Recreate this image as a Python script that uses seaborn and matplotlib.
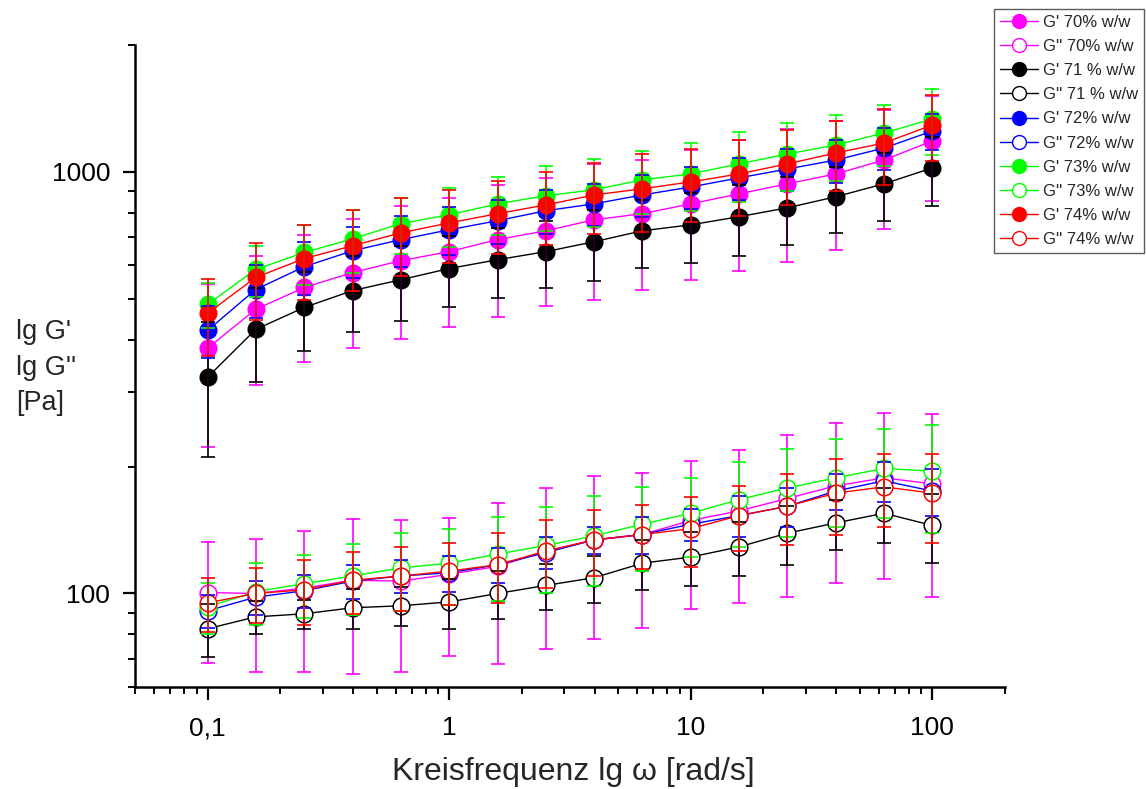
import matplotlib
matplotlib.use("Agg")
import matplotlib.pyplot as plt
from matplotlib import font_manager
from matplotlib.lines import Line2D
from matplotlib.ticker import LogLocator, NullFormatter, FixedLocator, FixedFormatter
import seaborn as sns
import pandas as pd

# angular frequency [rad/s]
omega = [0.1, 0.158, 0.251, 0.398, 0.631, 1.0, 1.585, 2.512, 3.981, 6.31,
         10.0, 15.85, 25.12, 39.81, 63.1, 100.0]

concentrations = ["70%", "71 %", "72%", "73%", "74%"]
colors = ["#FF00FF", "#000000", "#0000FF", "#00FF00", "#FF0000"]

# storage modulus G' [Pa]
gp_70 = [382, 472, 532, 577, 616, 647, 691, 725, 770, 796, 840, 887, 937, 989, 1067, 1184]
gp_71 = [326, 423, 477, 523, 555, 590, 619, 647, 683, 725, 749, 783, 822, 873, 937, 1022]
gp_72 = [421, 526, 596, 650, 691, 729, 766, 809, 840, 882, 921, 968, 1016, 1067, 1139, 1250]
gp_73 = [485, 587, 644, 694, 754, 791, 840, 878, 907, 958, 989, 1045, 1103, 1158, 1237, 1335]
gp_74 = [462, 562, 623, 668, 717, 757, 796, 835, 882, 912, 947, 989, 1045, 1109, 1171, 1292]

gp_70_sd = [160, 160, 177, 195, 215, 219, 239, 243, 272, 270, 285, 304, 324, 335, 336, 330]
gp_71_sd = [115, 106, 102, 107, 111, 113, 118, 118, 131, 132, 140, 150, 150, 156, 171, 191]
gp_72_sd = [60, 75, 85, 90, 95, 95, 90, 95, 97, 102, 105, 110, 115, 125, 130, 123]
gp_73_sd = [59, 81, 106, 119, 114, 126, 133, 155, 166, 163, 182, 198, 203, 207, 203, 236]
gp_74_sd = [96, 117, 127, 145, 151, 150, 156, 165, 168, 191, 186, 201, 212, 209, 238, 229]

# loss modulus G'' [Pa]
gpp_70 = [100.5, 100, 103, 107.5, 107, 111, 116, 126, 134, 138, 149, 157, 168, 180, 188, 182]
gpp_71 = [82.5, 88, 89.5, 92.5, 93.5, 95.5, 100, 104.5, 109, 118, 122, 129, 139, 147, 155, 145]
gpp_72 = [91, 98, 101.5, 107, 110, 112, 117, 125, 134, 138, 146, 153, 161, 175, 185, 175]
gpp_73 = [93, 101, 105.5, 110, 115, 118, 124, 130, 137, 146, 155, 167, 178, 188, 198, 195]
gpp_74 = [95, 100, 102, 107.5, 110, 113, 117, 126, 134, 138, 142.5, 153, 161, 173, 179, 173]

gpp_70_sd = [32, 35, 38, 43, 42, 40, 48, 52, 56, 55, 57, 62, 70, 74, 80, 84]
gpp_71_sd = [12, 8, 7, 10, 10, 13, 13, 13, 14, 16, 18, 19, 22, 20, 23, 27]
gpp_72_sd = [8, 9, 9, 10, 10, 11, 11, 11, 10, 14, 13, 17, 17, 17, 20, 22]
gpp_73_sd = [13, 17, 18, 21, 24, 24, 28, 30, 33, 33, 33, 38, 42, 44, 47, 56]
gpp_74_sd = [14, 15, 18, 18, 19, 19, 22, 23, 24, 24, 27, 27, 31, 35, 35, 41]

x_tick_values = [0.1, 1, 10, 100]
x_tick_labels = ["0,1", "1", "10", "100"]
y_tick_values = [100, 1000]
y_tick_labels = ["100", "1000"]

gp_series = [gp_70, gp_71, gp_72, gp_73, gp_74]
gp_errors = [gp_70_sd, gp_71_sd, gp_72_sd, gp_73_sd, gp_74_sd]
gpp_series = [gpp_70, gpp_71, gpp_72, gpp_73, gpp_74]
gpp_errors = [gpp_70_sd, gpp_71_sd, gpp_72_sd, gpp_73_sd, gpp_74_sd]

sns.set_style("ticks")
names = {f.name for f in font_manager.fontManager.ttflist}
narrow = "Liberation Sans Narrow" if "Liberation Sans Narrow" in names else "Liberation Sans"
plt.rcParams["font.family"] = ["Liberation Sans", "DejaVu Sans"]

fig = plt.figure(figsize=(11.46, 7.89), dpi=100)
ax = fig.add_axes([135 / 1146, 1 - 687 / 789, 870 / 1146, 642 / 789])
ax.set_xscale("log")
ax.set_yscale("log")

rows = []
for conc, gp, gpp in zip(concentrations, gp_series, gpp_series):
    for w, a, b in zip(omega, gp, gpp):
        rows.append({"omega": w, "value": a, "modulus": "G'", "conc": conc})
        rows.append({"omega": w, "value": b, "modulus": "G''", "conc": conc})
df = pd.DataFrame(rows)

ms = 12
for i, (conc, col) in enumerate(zip(concentrations, colors)):
    sub = df[(df["conc"] == conc) & (df["modulus"] == "G'")]
    sns.lineplot(data=sub, x="omega", y="value", ax=ax, color=col, lw=1.0,
                 marker="o", markersize=ms, markerfacecolor=col,
                 markeredgecolor=col, markeredgewidth=1.0, errorbar=None,
                 estimator=None, zorder=2 + i * 0.01, legend=False)
    sub = df[(df["conc"] == conc) & (df["modulus"] == "G''")]
    sns.lineplot(data=sub, x="omega", y="value", ax=ax, color=col, lw=1.0,
                 marker="o", markersize=ms, markerfacecolor="white",
                 markeredgecolor=col, markeredgewidth=1.1, errorbar=None,
                 estimator=None, zorder=2 + i * 0.01, legend=False)

for i, col in enumerate(colors):
    ax.errorbar(omega, gp_series[i], yerr=gp_errors[i], fmt="none", ecolor=col,
                elinewidth=1.2, capsize=5, capthick=1.2, zorder=3 + i * 0.01)
    ax.errorbar(omega, gpp_series[i], yerr=gpp_errors[i], fmt="none", ecolor=col,
                elinewidth=1.2, capsize=5, capthick=1.2, zorder=3 + i * 0.01)

ax.set_xlim(0.05, 200)
ax.set_ylim(60, 2000)

ax.xaxis.set_major_locator(FixedLocator(x_tick_values))
ax.xaxis.set_major_formatter(FixedFormatter(x_tick_labels))
ax.xaxis.set_minor_locator(LogLocator(base=10, subs=range(2, 10), numticks=20))
ax.xaxis.set_minor_formatter(NullFormatter())
ax.yaxis.set_major_locator(FixedLocator(y_tick_values))
ax.yaxis.set_major_formatter(FixedFormatter(y_tick_labels))
ax.yaxis.set_minor_locator(LogLocator(base=10, subs=range(2, 10), numticks=20))
ax.yaxis.set_minor_formatter(NullFormatter())

for side in ["top", "right"]:
    ax.spines[side].set_visible(False)
for side in ["left", "bottom"]:
    ax.spines[side].set_linewidth(1.8)
    ax.spines[side].set_color("black")

ax.tick_params(which="major", direction="out", length=9, width=1.6, colors="black")
ax.tick_params(which="minor", direction="out", length=5, width=1.4, colors="black")
ax.tick_params(axis="y", which="major", labelsize=19, pad=9)
ax.tick_params(axis="x", which="major", labelsize=19, pad=12)
for lab in ax.get_xticklabels():
    lab.set_family([narrow, "DejaVu Sans"])

ax.set_xlabel("")
ax.set_ylabel("")
fig.text(573 / 1146, 1 - 772 / 789, "Kreisfrequenz lg ω [rad/s]", ha="center",
         va="center", fontsize=23, family=[narrow, "DejaVu Sans"])

for label, yc in [("lg G'", 332), ("lg G''", 368), ("[Pa]", 403)]:
    fig.text(16 / 1146, 1 - yc / 789, label, ha="left", va="center", fontsize=19.5)

handles = []
labels = []
for conc, col in zip(concentrations, colors):
    handles.append(Line2D([], [], color=col, lw=1.0, marker="o", markersize=10,
                          markerfacecolor=col, markeredgecolor=col))
    labels.append(f"G' {conc} w/w")
    handles.append(Line2D([], [], color=col, lw=1.0, marker="o", markersize=10,
                          markerfacecolor="white", markeredgecolor=col))
    labels.append(f"G'' {conc} w/w")

leg = fig.legend(handles, labels, loc="upper left",
                 bbox_to_anchor=(994 / 1146, 1 - 9 / 789), fontsize=12,
                 frameon=True, fancybox=False, shadow=False, borderpad=0.35,
                 handlelength=2.3, handletextpad=0.3, labelspacing=0.55,
                 borderaxespad=0)
leg.get_frame().set_edgecolor("#333333")
leg.get_frame().set_linewidth(1.0)

fig.savefig("out.png", dpi=100, facecolor="white")
